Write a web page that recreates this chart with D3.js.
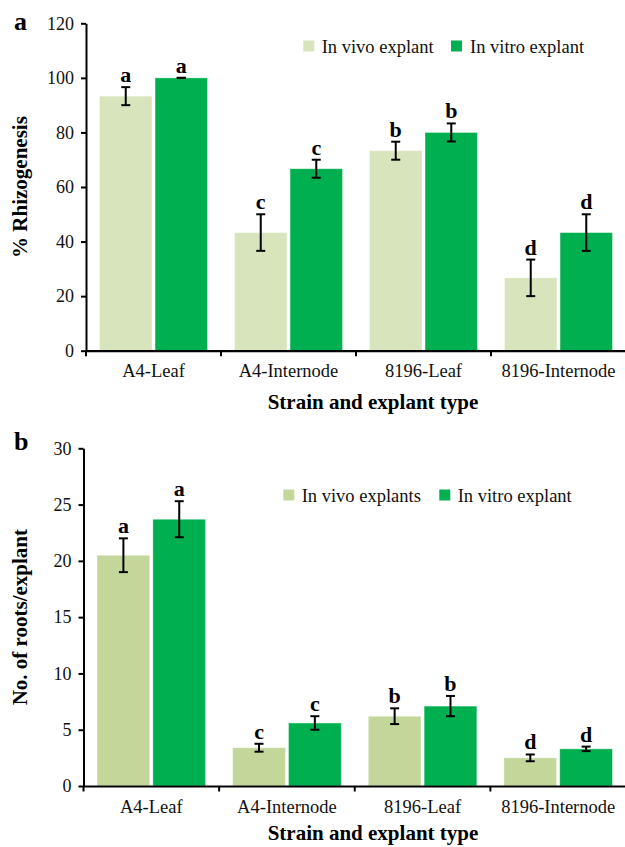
<!DOCTYPE html>
<html>
<head>
<meta charset="utf-8">
<script src="https://cdn.jsdelivr.net/npm/d3@7"></script>
<style>
  html, body { margin: 0; padding: 0; background: #fff; }
  svg { display: block; font-family: "Liberation Serif", "Times New Roman", serif; }
</style>
</head>
<body>
<svg id="chart" width="625" height="847"></svg>
<script>
// Strain / explant combinations on the x axis
const categories = ["A4-Leaf", "A4-Internode", "8196-Leaf", "8196-Internode"];

// Panel a: % rhizogenesis
const rhizoVivo = [93.3, 43.3, 73.3, 26.7];
const rhizoVivoErr = [3.3, 6.7, 3.3, 6.7];
const rhizoVitro = [100, 66.7, 80, 43.3];
const rhizoVitroErr = [0, 3.3, 3.3, 6.7];
const rhizoVivoLetters = ["a", "c", "b", "d"];
const rhizoVitroLetters = ["a", "c", "b", "d"];
const rhizoTicks = [0, 20, 40, 60, 80, 100, 120];

// Panel b: number of roots per explant
const rootsVivo = [20.5, 3.4, 6.2, 2.5];
const rootsVivoErr = [1.5, 0.35, 0.7, 0.3];
const rootsVitro = [23.7, 5.6, 7.1, 3.3];
const rootsVitroErr = [1.6, 0.6, 0.9, 0.2];
const rootsVivoLetters = ["a", "c", "b", "d"];
const rootsVitroLetters = ["a", "c", "b", "d"];
const rootsTicks = [0, 5, 10, 15, 20, 25, 30];

const svg = d3.select("#chart");

function drawPanel(cfg) {
  const g = svg.append("g");
  const x0 = d3.scaleBand().domain(categories).range([cfg.left, cfg.right]).padding(0);
  const series = ["vivo", "vitro"];
  const x1 = d3.scaleBand().domain(series)
    .range([13.5, x0.bandwidth() - 13.5]).paddingInner(0.055);
  const y = d3.scaleLinear().domain(cfg.domain).range([cfg.bottom, cfg.top]);

  const rows = categories.map((c, i) => ([
    { c, s: "vivo", v: cfg.vivo[i], e: cfg.vivoErr[i], l: cfg.vivoLetters[i], col: cfg.colVivo },
    { c, s: "vitro", v: cfg.vitro[i], e: cfg.vitroErr[i], l: cfg.vitroLetters[i], col: cfg.colVitro }
  ])).flat();

  // bars
  g.selectAll("rect.bar").data(rows).join("rect")
    .attr("class", "bar")
    .attr("x", d => x0(d.c) + x1(d.s))
    .attr("width", x1.bandwidth())
    .attr("y", d => y(d.v))
    .attr("height", d => y(0) - y(d.v))
    .attr("fill", d => d.col)
    .attr("stroke", "#ffffff")
    .attr("stroke-opacity", 0.5)
    .attr("stroke-width", 0.8);

  // error bars
  const eb = g.selectAll("g.err").data(rows).join("g").attr("class", "err")
    .attr("stroke", "#000").attr("stroke-width", 2);
  const cx = d => x0(d.c) + x1(d.s) + x1.bandwidth() / 2;
  eb.append("line")
    .attr("x1", cx).attr("x2", cx)
    .attr("y1", d => y(d.v + d.e)).attr("y2", d => y(d.v - d.e));
  eb.append("line")
    .attr("x1", d => cx(d) - 4.5).attr("x2", d => cx(d) + 4.5)
    .attr("y1", d => y(d.v + d.e)).attr("y2", d => y(d.v + d.e));
  eb.append("line")
    .attr("x1", d => cx(d) - 4.5).attr("x2", d => cx(d) + 4.5)
    .attr("y1", d => y(d.v - d.e)).attr("y2", d => y(d.v - d.e));

  // significance letters
  g.selectAll("text.sig").data(rows).join("text")
    .attr("class", "sig")
    .attr("x", cx)
    .attr("y", d => y(d.v + d.e) - 5)
    .attr("text-anchor", "middle")
    .attr("font-weight", "bold")
    .attr("font-size", "22px")
    .attr("fill", "#000")
    .text(d => d.l);

  // y axis
  const yAxis = d3.axisLeft(y).tickValues(cfg.ticks).tickSize(5).tickPadding(7).tickSizeOuter(0);
  const ya = g.append("g").attr("transform", `translate(${cfg.left},0)`).call(yAxis);
  ya.select(".domain").attr("stroke", "#000").attr("stroke-width", 2);
  ya.selectAll(".tick line").attr("stroke", "#000").attr("stroke-width", 2);
  ya.selectAll(".tick text").attr("font-size", "18px").attr("fill", "#111")
    .attr("font-family", "Liberation Serif, Times New Roman, serif");

  // x axis
  const xAxis = d3.axisBottom(x0).tickSize(0).tickPadding(0).tickSizeOuter(0);
  const xa = g.append("g").attr("transform", `translate(0,${y(0)})`).call(xAxis);
  xa.select(".domain").attr("stroke", "#000").attr("stroke-width", 2.2);
  xa.selectAll(".tick text").attr("font-size", "18.5px").attr("fill", "#111")
    .attr("dy", null).attr("y", 26.5)
    .attr("font-family", "Liberation Serif, Times New Roman, serif");
  // category boundary ticks
  const bounds = categories.map(c => x0(c)).concat([x0.range()[1]]);
  xa.selectAll("line.bound").data(bounds).join("line").attr("class", "bound")
    .attr("x1", d => d).attr("x2", d => d).attr("y1", 0).attr("y2", 5.5)
    .attr("stroke", "#000").attr("stroke-width", 2);

  // axis titles
  g.append("text")
    .attr("x", 373).attr("y", y(0) + cfg.xTitleOffset)
    .attr("text-anchor", "middle").attr("font-weight", "bold").attr("font-size", "21px")
    .text("Strain and explant type");
  g.append("text")
    .attr("transform", `translate(27,${(cfg.top + cfg.bottom) / 2}) rotate(-90)`)
    .attr("text-anchor", "middle").attr("font-weight", "bold").attr("font-size", "21px")
    .text(cfg.yTitle);

  // panel label
  g.append("text")
    .attr("x", 14).attr("y", cfg.labelY)
    .attr("font-weight", "bold").attr("font-size", "26px")
    .text(cfg.label);

  // legend
  const leg = g.append("g");
  cfg.legend.forEach(it => {
    leg.append("rect").attr("x", it.sx).attr("y", cfg.legendY - 12.5)
      .attr("width", 11).attr("height", 11).attr("fill", it.col);
    leg.append("text").attr("x", it.tx).attr("y", cfg.legendY)
      .attr("font-size", "18.5px").attr("fill", "#111").text(it.text);
  });
}

drawPanel({
  left: 86, right: 626, top: 23.3, bottom: 350.7, domain: [0, 120], ticks: rhizoTicks,
  vivo: rhizoVivo, vivoErr: rhizoVivoErr, vitro: rhizoVitro, vitroErr: rhizoVitroErr,
  vivoLetters: rhizoVivoLetters, vitroLetters: rhizoVitroLetters,
  colVivo: "#d8e4bc", colVitro: "#00b050",
  yTitle: "% Rhizogenesis", label: "a", labelY: 29.5, xTitleOffset: 58.5,
  legendY: 53,
  legend: [
    { sx: 303.3, tx: 321.7, col: "#d8e4bc", text: "In vivo explant" },
    { sx: 451, tx: 470, col: "#00b050", text: "In vitro explant" }
  ]
});

drawPanel({
  left: 83.5, right: 626, top: 448.3, bottom: 786, domain: [0, 30], ticks: rootsTicks,
  vivo: rootsVivo, vivoErr: rootsVivoErr, vitro: rootsVitro, vitroErr: rootsVitroErr,
  vivoLetters: rootsVivoLetters, vitroLetters: rootsVitroLetters,
  colVivo: "#c4d79b", colVitro: "#00b050",
  yTitle: "No. of roots/explant", label: "b", labelY: 450, xTitleOffset: 53.5,
  legendY: 502,
  legend: [
    { sx: 283.3, tx: 301.7, col: "#c4d79b", text: "In vivo explants" },
    { sx: 439.3, tx: 457.7, col: "#00b050", text: "In vitro explant" }
  ]
});
</script>
</body>
</html>
